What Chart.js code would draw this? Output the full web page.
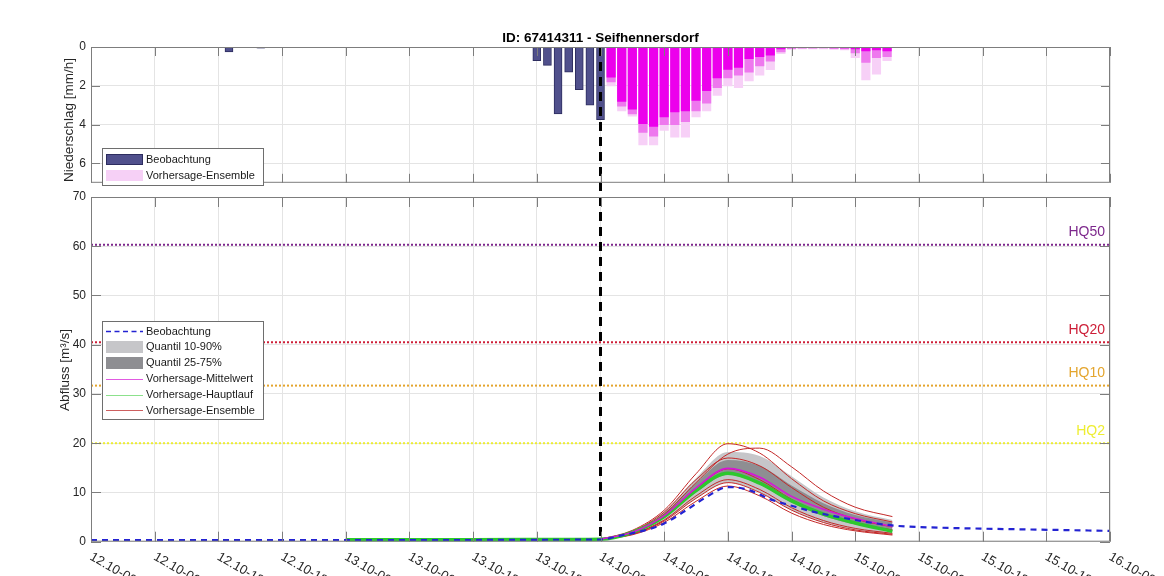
<!DOCTYPE html>
<html><head><meta charset="utf-8">
<script src="https://cdn.jsdelivr.net/npm/chart.js@4.4.1/dist/chart.umd.min.js"></script>
<style>
html,body{margin:0;padding:0;background:#fff;overflow:hidden;width:1164px;height:576px;}
canvas{position:absolute;left:0;}
#c1{top:0;}
#c2{top:180px;}
</style></head><body>
<canvas id="c1" width="1164" height="195"></canvas>
<canvas id="c2" width="1164" height="396"></canvas>
<script>
// ---------------- DATA ----------------
const chartTitle = 'ID: 67414311 - Seifhennersdorf';
const xTickHours = [0,6,12,18,24,30,36,42,48,54,60,66,72,78,84,90,96];
const xTickLabels = ['12.10-00:00','12.10-06:00','12.10-12:00','12.10-18:00','13.10-00:00','13.10-06:00','13.10-12:00','13.10-18:00','14.10-00:00','14.10-06:00','14.10-12:00','14.10-18:00','15.10-00:00','15.10-06:00','15.10-12:00','15.10-18:00','16.10-00:00'];
const rainTicks = [0,2,4,6];
const flowTicks = [0,10,20,30,40,50,60,70];
const forecastStart = 48;

// precipitation [mm/h], hours since 12.10 00:00
const obsRainT = [11,13,16,42,43,44,45,46,47,48];
const obsRain  = [0.03,0.25,0.06,0.7,0.95,3.45,1.3,2.2,3.0,3.75];
const ensRainT   = [49,50,51,52,53,54,55,56,57,58,59,60,61,62,63,64,65,66,67,68,69,70,71,72,73,74,75];
const ensRainMin = [1.55,2.8,3.2,3.95,4.1,3.6,3.35,3.3,2.75,2.25,1.6,1.15,1.05,0.6,0.5,0.42,0.1,0.03,0.03,0.03,0.02,0.03,0.05,0.1,0.2,0.15,0.2];
const ensRainMid = [1.8,3.05,3.45,4.4,4.6,4.0,4.0,3.85,3.3,2.9,2.1,1.6,1.45,1.3,0.97,0.73,0.26,0.08,0.06,0.06,0.05,0.08,0.1,0.3,0.8,0.55,0.5];
const ensRainMax = [2.0,3.3,3.56,5.05,5.05,4.3,4.65,4.65,3.6,3.3,2.5,2.0,2.1,1.75,1.45,1.17,0.34,0.12,0.1,0.1,0.1,0.12,0.15,0.55,1.7,1.4,0.7];

// discharge [m³/s]
const obsFlowT = [0,12,24,36,45,48,50,52,54,56,58,60,62,64,66,68,70,72,74,76,80,84,88,92,96];
const obsFlow  = [0.35,0.35,0.35,0.35,0.4,0.45,1.3,2.2,3.7,6.3,9.1,11.1,10.5,8.6,7.3,6.1,5.2,4.4,3.7,3.2,2.85,2.65,2.5,2.35,2.2];
const fcT      = [48,51,54,57,60,63,66,69,72,75.5];
const mainRunT = [24,36,45,48,51,54,57,60,63,66,69,72,75.5];
const mainRun  = [0.4,0.4,0.45,0.5,1.9,5.1,10.4,13.9,11.9,8.3,5.6,3.8,2.1];
const ensMean  = [0.5,1.9,5.3,10.9,14.9,13.1,9.2,6.6,4.7,3.1];
const q90 = [0.5,2.2,6.2,12.9,18.2,17.4,13.3,9.0,6.2,4.4];
const q75 = [0.5,2.1,5.8,11.9,16.6,15.4,11.4,7.8,5.4,3.9];
const q25 = [0.5,1.7,4.8,10.0,13.6,11.6,7.9,5.2,3.5,2.4];
const q10 = [0.5,1.5,4.2,8.8,12.0,10.0,6.4,3.9,2.5,1.5];
const ens1 = [0.5,2.3,6.4,13.8,19.9,18.0,12.8,8.3,5.7,4.0];
const ens2 = [0.5,2.0,5.6,12.0,17.8,19.0,15.2,10.3,7.0,5.1];
const ens3 = [0.5,2.1,6.0,12.6,17.0,15.4,11.0,7.0,4.6,3.0];
const ens4 = [0.5,1.9,5.2,10.8,14.8,12.6,8.6,5.6,3.7,2.4];
const ens5 = [0.5,1.6,4.4,9.3,12.6,10.6,6.9,4.3,2.7,1.7];
const ens6 = [0.5,1.4,3.9,8.2,11.3,9.3,5.8,3.5,2.2,1.35];
const ens7 = [0.5,1.5,4.2,8.8,12.0,10.0,6.4,3.9,2.4,1.5];
const hqNames  = ['HQ50','HQ20','HQ10','HQ2'];
const hqValues = [60.3,40.5,31.7,20.0];

// ---------------- STYLE ----------------
const FONT = "'Liberation Sans', Arial, Helvetica, sans-serif";
const GRID = 'rgb(228,228,228)';
const AXIS = 'rgb(125,125,125)';
const TXT = 'rgb(38,38,38)';
const hqColors = ['rgb(125,40,140)','rgb(205,30,55)','rgb(228,165,45)','rgb(238,238,50)'];
const C = {
  obsBar:'rgb(80,80,140)', obsBarEdge:'rgb(45,45,95)',
  ensMin:'rgb(236,0,236)', ensMid:'rgb(238,120,238)', ensMax:'rgb(247,208,247)',
  obs:'rgb(35,35,210)', mean:'rgb(215,20,215)', main:'rgb(45,200,45)', ens:'rgb(195,40,40)',
  q1090:'rgb(198,198,201)', q2575:'rgb(142,142,146)'
};
const pts = (t, v) => t.map((h, i) => ({x: h, y: v[i]}));

function drawBox(chart, xt, yt, tickLen){
  const {ctx, chartArea:a, scales:{x, y}} = chart;
  ctx.save();
  ctx.strokeStyle = AXIS; ctx.lineWidth = 1; ctx.setLineDash([]);
  ctx.strokeRect(a.left + 0.5, a.top + 0.5, a.right - a.left - 1, a.bottom - a.top - 1);
  ctx.beginPath();
  xt.forEach(v => { const px = Math.round(x.getPixelForValue(v)) + 0.5;
    ctx.moveTo(px, a.bottom); ctx.lineTo(px, a.bottom - tickLen);
    ctx.moveTo(px, a.top); ctx.lineTo(px, a.top + tickLen); });
  yt.forEach(v => { const py = Math.round(y.getPixelForValue(v)) + 0.5;
    ctx.moveTo(a.left, py); ctx.lineTo(a.left + tickLen, py);
    ctx.moveTo(a.right, py); ctx.lineTo(a.right - tickLen, py); });
  ctx.stroke(); ctx.restore();
}
function drawVLine(chart, y0, y1, offset){
  const {ctx, scales:{x}} = chart;
  const px = x.getPixelForValue(forecastStart);
  ctx.save(); ctx.strokeStyle = '#000'; ctx.lineWidth = 3;
  ctx.setLineDash([9, 6]); ctx.lineDashOffset = offset;
  ctx.beginPath(); ctx.moveTo(px, y0); ctx.lineTo(px, y1); ctx.stroke(); ctx.restore();
}
function vText(ctx, text, x, y, size){
  ctx.save(); ctx.translate(x, y); ctx.rotate(-Math.PI / 2);
  ctx.font = size + 'px ' + FONT; ctx.fillStyle = TXT; ctx.textAlign = 'center'; ctx.textBaseline = 'middle';
  ctx.fillText(text, 0, 0); ctx.restore();
}
function legendBox(ctx, x0, y0, x1, y1){
  ctx.save(); ctx.fillStyle = '#fff'; ctx.fillRect(x0, y0, x1 - x0, y1 - y0);
  ctx.strokeStyle = 'rgb(110,110,110)'; ctx.lineWidth = 1; ctx.strokeRect(x0 + 0.5, y0 + 0.5, x1 - x0, y1 - y0); ctx.restore();
}
function legendText(ctx, text, x, y){
  ctx.save(); ctx.font = '11px ' + FONT; ctx.fillStyle = 'rgb(25,25,25)'; ctx.textAlign = 'left'; ctx.textBaseline = 'middle';
  ctx.fillText(text, x, y); ctx.restore();
}

const xScaleBase = () => ({
  type:'linear', min:0, max:96, offset:false,
  afterBuildTicks: s => { s.ticks = xTickHours.map(v => ({value:v})); },
  ticks:{display:false}, grid:{color:GRID, drawTicks:false, offset:false}, border:{display:false},
  afterFit: s => { s.height = 0; }
});

// ---------------- TOP: precipitation ----------------
const topDecor = {
  id:'topDecor',
  afterDatasetsDraw(chart){
    const {ctx, chartArea:a} = chart;
    drawVLine(chart, a.top, chart.height, 0);
    drawBox(chart, xTickHours, rainTicks, 9);
    ctx.save(); ctx.font = 'bold 13.5px ' + FONT; ctx.fillStyle = '#000'; ctx.textAlign = 'center'; ctx.textBaseline = 'middle';
    ctx.fillText(chartTitle, (a.left + a.right) / 2, 38); ctx.restore();
    vText(ctx, 'Niederschlag [mm/h]', 69, 120, 13.5);
    legendBox(ctx, 102, 148, 263, 185);
    ctx.save();
    ctx.fillStyle = C.obsBar; ctx.fillRect(106, 154, 37, 11);
    ctx.strokeStyle = C.obsBarEdge; ctx.strokeRect(106.5, 154.5, 36, 10);
    ctx.fillStyle = 'rgb(246,208,246)'; ctx.fillRect(106, 170, 37, 11);
    ctx.restore();
    legendText(ctx, 'Beobachtung', 146, 159.5);
    legendText(ctx, 'Vorhersage-Ensemble', 146, 175.5);
  }
};
new Chart(document.getElementById('c1'), {
  type:'bar',
  data:{datasets:[
    {label:'Beobachtung', data:pts(obsRainT, obsRain), backgroundColor:C.obsBar, borderColor:C.obsBarEdge, borderWidth:1, barThickness:8, grouped:false},
    {label:'Ensemble min', data:pts(ensRainT, ensRainMin), backgroundColor:C.ensMin, borderWidth:0, barThickness:8.5, grouped:false},
    {label:'Ensemble mid', data:pts(ensRainT, ensRainMid), backgroundColor:C.ensMid, borderWidth:0, barThickness:8.5, grouped:false},
    {label:'Vorhersage-Ensemble', data:pts(ensRainT, ensRainMax), backgroundColor:C.ensMax, borderWidth:0, barThickness:8.5, grouped:false}
  ]},
  options:{
    responsive:false, animation:false, devicePixelRatio:1,
    layout:{padding:{left:0, right:54, top:47, bottom:2}},
    plugins:{legend:{display:false}, tooltip:{enabled:false}, title:{display:false}},
    scales:{
      x: xScaleBase(),
      y:{reverse:true, min:0, max:7,
        afterBuildTicks: s => { s.ticks = rainTicks.map(v => ({value:v})); },
        ticks:{font:{family:FONT, size:12}, color:TXT, padding:5},
        grid:{color:GRID, drawTicks:false}, border:{display:false},
        afterFit: s => { s.width = 91; }}
    }
  },
  plugins:[topDecor]
});

// ---------------- BOTTOM: discharge ----------------
const bottomDecor = {
  id:'bottomDecor',
  afterDatasetsDraw(chart){
    const {ctx, chartArea:a, scales:{x, y}} = chart;
    // HQ labels
    ctx.save(); ctx.font = '14px ' + FONT; ctx.textAlign = 'right'; ctx.textBaseline = 'middle';
    hqNames.forEach((n, i) => { ctx.fillStyle = hqColors[i]; ctx.fillText(n, a.right - 5, y.getPixelForValue(hqValues[i]) - 12.5); });
    ctx.restore();
    drawVLine(chart, 15, a.bottom, 13);
    drawBox(chart, xTickHours, flowTicks, 10);
    // x tick labels (rotated)
    ctx.save(); ctx.font = '13px ' + FONT; ctx.fillStyle = TXT; ctx.textAlign = 'left'; ctx.textBaseline = 'top';
    xTickHours.forEach((h, i) => {
      ctx.save(); ctx.translate(x.getPixelForValue(h) + 3, a.bottom + 8.5); ctx.rotate(30 * Math.PI / 180);
      ctx.fillText(xTickLabels[i], 0, 0); ctx.restore();
    });
    ctx.restore();
    vText(ctx, 'Abfluss [m³/s]', 65, 190, 13.5);
    // legend
    const oy = -180;
    legendBox(ctx, 102, 321 + oy, 263, 419 + oy);
    ctx.save();
    ctx.lineWidth = 1.5; ctx.strokeStyle = C.obs; ctx.setLineDash([5, 3.5]);
    ctx.beginPath(); ctx.moveTo(106, 331.5 + oy); ctx.lineTo(143, 331.5 + oy); ctx.stroke();
    ctx.setLineDash([]);
    ctx.fillStyle = C.q1090; ctx.fillRect(106, 341 + oy, 37, 12);
    ctx.fillStyle = C.q2575; ctx.fillRect(106, 357 + oy, 37, 12);
    ctx.lineWidth = 1;
    [['rgb(225,90,225)', 379], ['rgb(140,225,140)', 395], ['rgb(205,95,95)', 410]].forEach(([c, yy]) => {
      ctx.strokeStyle = c; ctx.beginPath(); ctx.moveTo(106, yy + oy + 0.5); ctx.lineTo(143, yy + oy + 0.5); ctx.stroke();
    });
    ctx.restore();
    const labs = ['Beobachtung','Quantil 10-90%','Quantil 25-75%','Vorhersage-Mittelwert','Vorhersage-Hauptlauf','Vorhersage-Ensemble'];
    const ys = [331.5, 347, 362.5, 379, 395, 410.5];
    labs.forEach((t, i) => legendText(ctx, t, 146, ys[i] + oy));
  }
};
const lineDs = (label, data, color, width, extra) => Object.assign({
  label, data, borderColor:color, borderWidth:width, pointRadius:0, fill:false,
  cubicInterpolationMode:'monotone', backgroundColor:color
}, extra || {});
const ensList = [ens1, ens2, ens3, ens4, ens5, ens6, ens7];
const datasets = [
  lineDs('Beobachtung', pts(obsFlowT, obsFlow), C.obs, 2.2, {borderDash:[6,5]}),
  lineDs('Vorhersage-Mittelwert', pts(fcT, ensMean), C.mean, 1.6),
  lineDs('Vorhersage-Hauptlauf', pts(mainRunT, mainRun), C.main, 3.5),
  ...ensList.map((e, i) => lineDs('Vorhersage-Ensemble ' + (i + 1), pts(fcT, e), C.ens, 1)),
  lineDs('Quantil 75%', pts(fcT, q75), C.q2575, 0, {fill:'+1', backgroundColor:C.q2575}),
  lineDs('Quantil 25%', pts(fcT, q25), C.q2575, 0),
  lineDs('Quantil 90%', pts(fcT, q90), C.q1090, 0, {fill:'+1', backgroundColor:C.q1090}),
  lineDs('Quantil 10%', pts(fcT, q10), C.q1090, 0),
  ...hqNames.map((n, i) => lineDs(n, [{x:0, y:hqValues[i]}, {x:96, y:hqValues[i]}], hqColors[i], 2, {borderDash:[2,2], cubicInterpolationMode:'default'}))
];
new Chart(document.getElementById('c2'), {
  type:'line',
  data:{datasets},
  options:{
    responsive:false, animation:false, devicePixelRatio:1,
    layout:{padding:{left:0, right:54, top:17, bottom:34.3}},
    plugins:{legend:{display:false}, tooltip:{enabled:false}, title:{display:false}},
    scales:{
      x: xScaleBase(),
      y:{min:0, max:70,
        afterBuildTicks: s => { s.ticks = flowTicks.map(v => ({value:v})); },
        ticks:{font:{family:FONT, size:12}, color:TXT, padding:5},
        grid:{color:GRID, drawTicks:false}, border:{display:false},
        afterFit: s => { s.width = 91; }}
    }
  },
  plugins:[bottomDecor]
});
</script>
</body></html>
